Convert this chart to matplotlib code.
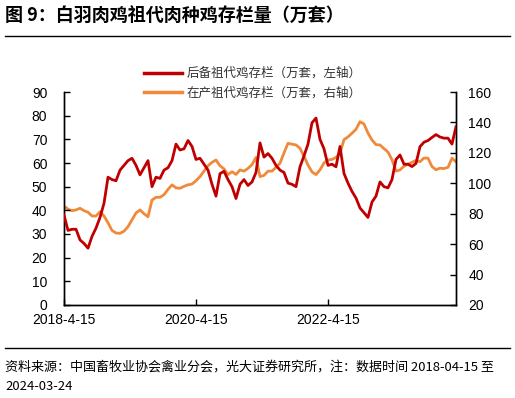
import numpy as np
import pandas as pd
import matplotlib.pyplot as plt
from matplotlib.lines import Line2D

plt.rcParams['font.family'] = ['Liberation Sans', 'Noto Sans CJK SC', 'DejaVu Sans']

START = '2018-04-15'
END = '2024-03-24'

# 后备祖代鸡存栏（万套，左轴）
reserve = [38, 31.5, 32, 32, 27.5, 26, 24, 29, 32.5, 37,
           43, 54, 53, 52.5, 57, 59, 61, 62, 59, 55,
           58, 61, 50, 54, 53.5, 57, 58, 61, 68, 65.5,
           66, 69.5, 67, 61.5, 62, 59.5, 57, 51, 46, 55.5,
           56.5, 53, 50, 45, 51, 53, 50.5, 52, 56, 68.5,
           62.5, 64, 62, 59, 57, 56, 51.5, 51, 50, 58.4,
           63, 68, 77, 79, 70, 66, 59, 59.5, 58.4, 67,
           55.6, 51.5, 48, 45.2, 41, 39, 37, 43.5, 46, 52,
           50, 49.5, 53, 61.5, 63.4, 59.5, 59.5, 58.5, 59.8, 66.9,
           68.8, 69.5, 70.8, 72, 71, 70.5, 70.5, 68, 75.3]

# 在产祖代鸡存栏（万套，右轴）
producing = [85, 83, 82, 82.5, 83.6, 82, 81, 78.5, 78.5, 81.3,
             78.5, 74, 69, 67.3, 67.1, 68.5, 71.5, 76, 80.5, 82.5,
             80, 78, 89, 90.8, 90.8, 92.5, 96, 99, 97, 96.7,
             98, 99, 99.5, 101.7, 104.4, 108, 111.5, 113.8, 115.3, 111.5,
             109.5, 105.7, 107.6, 105.8, 108.8, 108, 109.8, 112.3, 117, 104.4,
             105.2, 108, 108, 110.5, 113.2, 120, 126.3, 125.7, 125.2, 123,
             117.8, 112, 107.5, 105.7, 108.8, 113.4, 115.3, 115.7, 117, 119.7,
             128.7, 130.5, 132.9, 135.5, 140.5, 139, 133, 128.5, 125.4, 125.2,
             122.8, 120.5, 115.5, 108, 108.8, 111.2, 112.5, 113.8, 115, 114.2,
             116.6, 116.5, 111, 108.9, 109.9, 109.7, 110.5, 116.5, 114.2]

tick_dates = ['2018-04-15', '2020-04-15', '2022-04-15']
tick_labels = ['2018-4-15', '2020-4-15', '2022-4-15']

RED = '#C00000'
ORANGE = '#F08A3A'
CJK = ['Noto Sans CJK SC', 'DejaVu Sans']

dates = pd.date_range(START, END, periods=len(reserve))

fig = plt.figure(figsize=(5.15, 3.98), dpi=100)
ax = fig.add_axes([0.1243, 0.2337, 0.7611, 0.5351])
ax2 = ax.twinx()

ax.plot(dates, reserve, color=RED, lw=2.0, zorder=3)
ax2.plot(dates, producing, color=ORANGE, lw=2.0, zorder=2)
ax.set_zorder(ax2.get_zorder() + 1)
ax.patch.set_visible(False)

ax.set_xlim(pd.Timestamp(START), pd.Timestamp(END))
ax.set_ylim(0, 90)
ax.set_yticks(np.arange(0, 91, 10))
ax2.set_ylim(20, 160)
ax2.set_yticks(np.arange(20, 161, 20))
ax.set_xticks([pd.Timestamp(d) for d in tick_dates])
ax.set_xticklabels(tick_labels)

for a in (ax, ax2):
    a.spines['top'].set_visible(False)
    for s in ('left', 'right', 'bottom'):
        a.spines[s].set_linewidth(1.0)
        a.spines[s].set_color('black')
    a.tick_params(direction='in', length=4, width=1, labelsize=10, colors='black')
ax.tick_params(axis='y', pad=12)
ax2.tick_params(axis='y', pad=9)
ax.tick_params(axis='x', pad=6)

handles = [Line2D([], [], color=RED, lw=2.5),
           Line2D([], [], color=ORANGE, lw=2.5)]
labels = ['后备祖代鸡存栏（万套，左轴）', '在产祖代鸡存栏（万套，右轴）']
leg = fig.legend(handles, labels, loc='upper left', bbox_to_anchor=(0.258, 0.86),
                 frameon=False, handlelength=3.0, handletextpad=0.4,
                 labelspacing=0.55, prop={'family': CJK, 'size': 9})
for t in leg.get_texts():
    t.set_color('#333333')

fig.text(0.01, 0.96, '图 9：白羽肉鸡祖代肉种鸡存栏量（万套）', fontsize=13,
         fontweight='bold', va='center', ha='left', family=CJK)
fig.add_artist(Line2D([0.01, 0.99], [0.909, 0.909], color='black', lw=1.0))
fig.add_artist(Line2D([0.01, 0.99], [0.126, 0.126], color='black', lw=1.0))
fig.text(0.01, 0.077, '资料来源：中国畜牧业协会禽业分会，光大证券研究所，注：数据时间 2018-04-15 至',
         fontsize=9.4, va='center', ha='left', family=CJK)
fig.text(0.01, 0.028, '2024-03-24', fontsize=9.4, va='center', ha='left', family=CJK)

fig.savefig('out.png', dpi=100)
